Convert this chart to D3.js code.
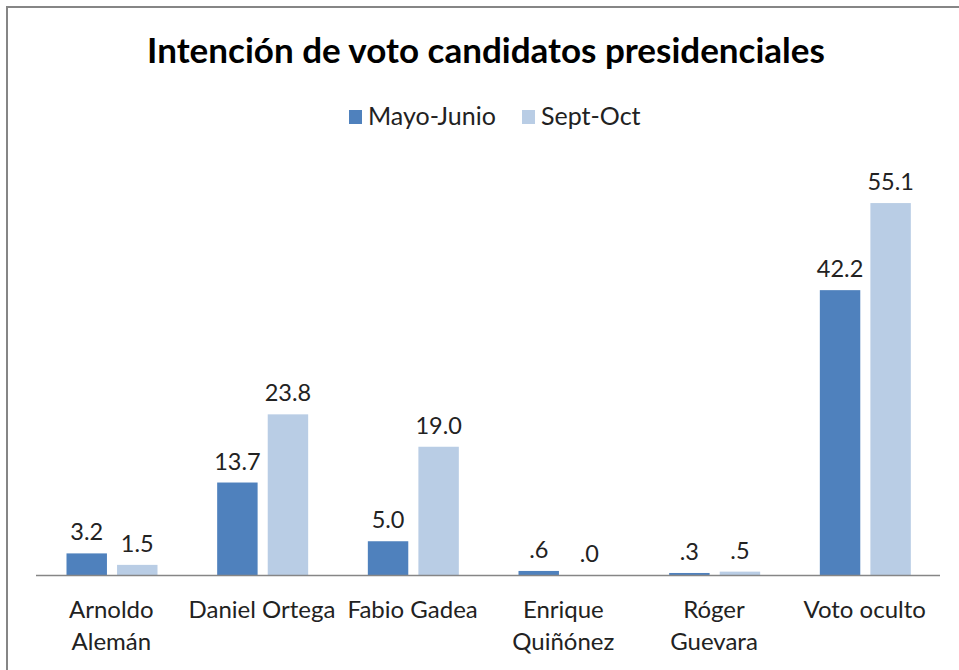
<!DOCTYPE html>
<html>
<head>
<meta charset="utf-8">
<script src="https://cdn.jsdelivr.net/npm/d3@7"></script>
<style>
  body { margin: 0; background: #fff; }
  text { font-family: Lato, "Open Sans", sans-serif; }
</style>
</head>
<body>
<div id="chart"></div>
<script>
// chart data
var categories = ["Arnoldo Alemán", "Daniel Ortega", "Fabio Gadea", "Enrique Quiñónez", "Róger Guevara", "Voto oculto"];
var labelLines = [["Arnoldo", "Alemán"], ["Daniel Ortega"], ["Fabio Gadea"], ["Enrique", "Quiñónez"], ["Róger", "Guevara"], ["Voto oculto"]];
var series = ["Mayo-Junio", "Sept-Oct"];
var mayoJunio = [3.2, 13.7, 5.0, 0.6, 0.3, 42.2];
var septOct = [1.5, 23.8, 19.0, 0.0, 0.5, 55.1];
var colors = ["#4F81BD", "#B9CDE5"];

var width = 959, height = 670;

var svg = d3.select("#chart")
  .append("svg")
  .attr("width", width)
  .attr("height", height);

// outer frame (right/bottom edges run off the picture)
svg.append("rect")
  .attr("x", 7).attr("y", 7)
  .attr("width", 980).attr("height", 700)
  .attr("fill", "none")
  .attr("stroke", "#868686")
  .attr("stroke-width", 2);

// title
svg.append("text")
  .attr("x", 486).attr("y", 63)
  .attr("text-anchor", "middle")
  .style("font-size", "35px")
  .style("font-weight", "bold")
  .attr("fill", "#000")
  .text("Intención de voto candidatos presidenciales");

// legend
var legendX = [349, 522];
var legend = svg.selectAll(".legend")
  .data(series)
  .enter()
  .append("g")
  .attr("transform", function(d, i) { return "translate(" + legendX[i] + ",110)"; });

legend.append("rect")
  .attr("width", 13).attr("height", 14)
  .attr("fill", function(d, i) { return colors[i]; });

legend.append("text")
  .attr("x", 19).attr("y", 15)
  .style("font-size", "25px")
  .attr("fill", "#222")
  .text(function(d) { return d; });

// scales
var x0 = d3.scaleBand()
  .domain(categories)
  .range([36, 940]);

var x1 = d3.scaleBand()
  .domain(series)
  .range([30.5, 121.5])
  .paddingInner(0.2);

var y = d3.scaleLinear()
  .domain([0, 60])
  .range([575, 170]);

var rows = categories.map(function(c, i) {
  return { cat: c, values: [mayoJunio[i], septOct[i]] };
});

var groups = svg.selectAll(".group")
  .data(rows)
  .enter()
  .append("g")
  .attr("transform", function(d) { return "translate(" + x0(d.cat) + ",0)"; });

groups.selectAll("rect")
  .data(function(d) { return d.values.map(function(v, i) { return { key: series[i], value: v, i: i }; }); })
  .enter()
  .append("rect")
  .attr("x", function(d) { return x1(d.key); })
  .attr("y", function(d) { return y(d.value); })
  .attr("width", x1.bandwidth())
  .attr("height", function(d) { return y(0) - y(d.value); })
  .attr("fill", function(d) { return colors[d.i]; });

// value labels (Excel style: ".6" instead of "0.6")
var fmt = function(v) {
  var s = d3.format(".1f")(v);
  return s.indexOf("0.") === 0 ? s.slice(1) : s;
};

groups.selectAll(".val")
  .data(function(d) { return d.values.map(function(v, i) { return { key: series[i], value: v }; }); })
  .enter()
  .append("text")
  .attr("x", function(d) { return x1(d.key) + x1.bandwidth() / 2; })
  .attr("y", function(d) { return y(d.value) - 13; })
  .attr("text-anchor", "middle")
  .style("font-size", "23.5px")
  .attr("fill", "#222")
  .text(function(d) { return fmt(d.value); });

// x axis line
svg.append("line")
  .attr("x1", 36).attr("x2", 940)
  .attr("y1", y(0) + 0.5).attr("y2", y(0) + 0.5)
  .attr("stroke", "#868686")
  .attr("stroke-width", 1.5);

// category labels
var catLabels = svg.selectAll(".cat")
  .data(categories)
  .enter()
  .append("text")
  .attr("text-anchor", "middle")
  .style("font-size", "24px")
  .attr("fill", "#222")
  .attr("transform", function(d) { return "translate(" + (x0(d) + x0.bandwidth() / 2) + ",618)"; });

catLabels.selectAll("tspan")
  .data(function(d, i) { return labelLines[i]; })
  .enter()
  .append("tspan")
  .attr("x", 0)
  .attr("dy", function(d, i) { return i === 0 ? 0 : 32; })
  .text(function(d) { return d; });
</script>
</body>
</html>
